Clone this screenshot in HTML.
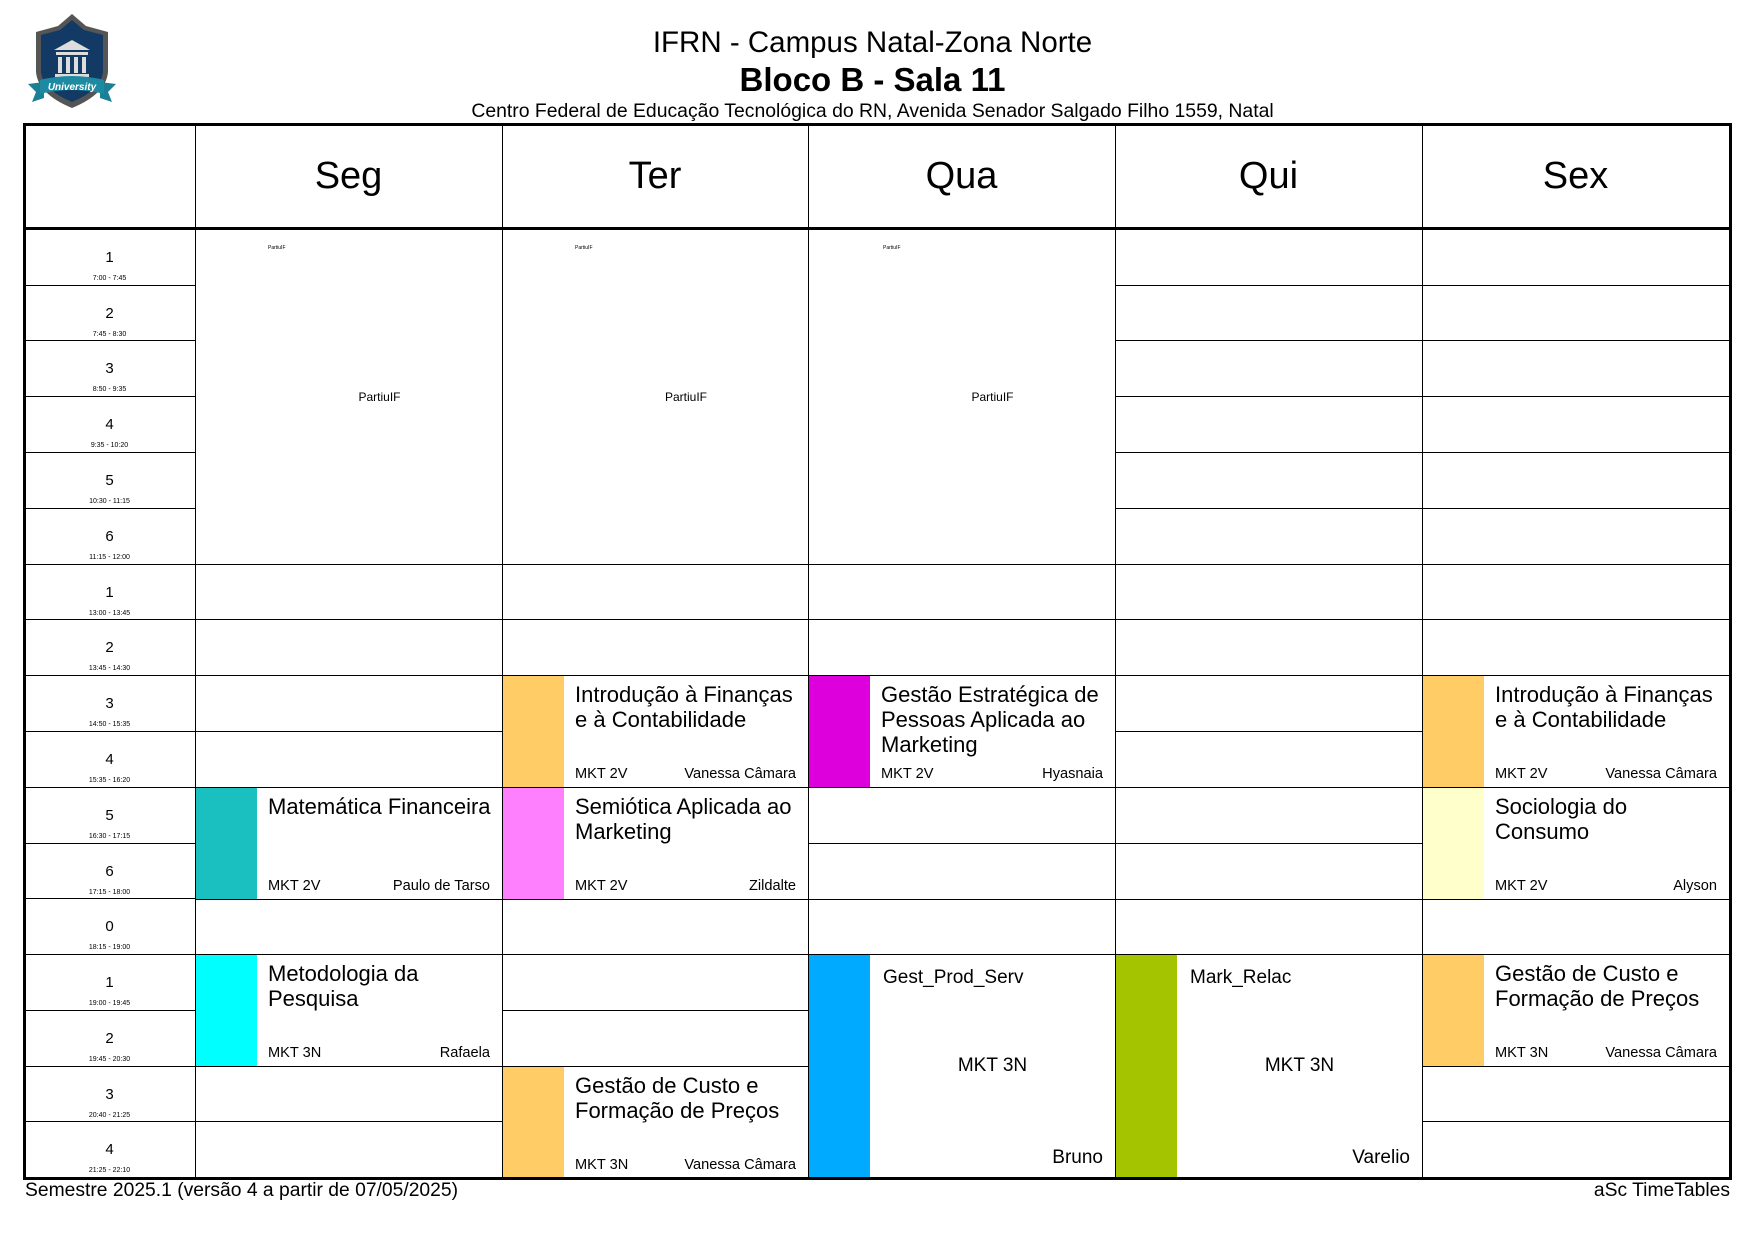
<!DOCTYPE html>
<html><head><meta charset="utf-8"><style>
*{margin:0;padding:0;box-sizing:border-box}
body{width:1755px;height:1241px;background:#fff;position:relative;overflow:hidden;font-family:"Liberation Sans",Arial,sans-serif;color:#000}
.a{position:absolute}
.c{position:absolute;border:1px solid #000;background:#fff}
.t{position:absolute;text-align:center;left:61px;right:0}
.bar{position:absolute;left:0;top:0;bottom:0;width:61px}
.ti{position:absolute;left:72px;right:10px;top:6px;font-size:22px;line-height:25px}
.g{position:absolute;left:72px;bottom:3px;font-size:14.6px;line-height:20px}
.tc{position:absolute;right:12px;bottom:3px;font-size:14.6px;line-height:20px}
.day{position:absolute;top:124px;height:105px;line-height:105px;text-align:center;font-size:38px}
.num{position:absolute;left:24px;width:171px;text-align:center}
</style></head><body>
<svg class="a" style="left:26px;top:12px" width="92" height="100" viewBox="0 0 92 100">
<path d="M46 2 L60 14 L82 20 L82 60 Q80 82 46 96 Q12 82 10 60 L10 20 L32 14 Z" fill="#555"/>
<path d="M46 8 L58 18 L77 23 L77 60 Q75 78 46 90 Q17 78 15 60 L15 23 L34 18 Z" fill="#123a64"/>
<path d="M28 38 L46 28 L64 38 Z" fill="#ddd"/>
<rect x="30" y="40" width="32" height="3" fill="#ddd"/>
<rect x="32" y="45" width="4" height="16" fill="#ddd"/><rect x="40" y="45" width="4" height="16" fill="#ddd"/><rect x="48" y="45" width="4" height="16" fill="#ddd"/><rect x="56" y="45" width="4" height="16" fill="#ddd"/>
<rect x="29" y="62" width="34" height="3" fill="#ddd"/>
<path d="M2 72 L18 70 L18 86 L6 90 L10 80 Z" fill="#1b7f95"/><path d="M90 72 L74 70 L74 86 L86 90 L82 80 Z" fill="#1b7f95"/>
<path d="M14 68 Q46 60 78 68 L78 82 Q46 74 14 82 Z" fill="#1e8aa2"/>
<text x="46" y="78" font-size="10" font-weight="bold" font-style="italic" fill="#fff" text-anchor="middle" font-family="Liberation Sans">University</text>
</svg>
<div class="a" style="left:0;width:1745px;top:26px;text-align:center;font-size:29.5px">IFRN - Campus Natal-Zona Norte</div>
<div class="a" style="left:0;width:1745px;top:61px;text-align:center;font-size:33px;font-weight:bold">Bloco B - Sala 11</div>
<div class="a" style="left:0;width:1745px;top:100px;text-align:center;font-size:19.4px">Centro Federal de Educação Tecnológica do RN, Avenida Senador Salgado Filho 1559, Natal</div>

<div class="c" style="left:24px;top:124px;width:172px;height:106px"></div>
<div class="c" style="left:195px;top:124px;width:308px;height:106px"></div>
<div class="c" style="left:502px;top:124px;width:308px;height:106px"></div>
<div class="c" style="left:808px;top:124px;width:308px;height:106px"></div>
<div class="c" style="left:1115px;top:124px;width:308px;height:106px"></div>
<div class="c" style="left:1422px;top:124px;width:308px;height:106px"></div>
<div class="day" style="left:195px;width:307px">Seg</div>
<div class="day" style="left:502px;width:306px">Ter</div>
<div class="day" style="left:808px;width:307px">Qua</div>
<div class="day" style="left:1115px;width:307px">Qui</div>
<div class="day" style="left:1422px;width:307px">Sex</div>

<div class="c" style="left:24px;top:229px;width:172px;height:57px"></div>
<div class="c" style="left:24px;top:285px;width:172px;height:57px"></div>
<div class="c" style="left:24px;top:340px;width:172px;height:57px"></div>
<div class="c" style="left:24px;top:396px;width:172px;height:57px"></div>
<div class="c" style="left:24px;top:452px;width:172px;height:57px"></div>
<div class="c" style="left:24px;top:508px;width:172px;height:57px"></div>
<div class="c" style="left:24px;top:564px;width:172px;height:57px"></div>
<div class="c" style="left:24px;top:619px;width:172px;height:57px"></div>
<div class="c" style="left:24px;top:675px;width:172px;height:57px"></div>
<div class="c" style="left:24px;top:731px;width:172px;height:57px"></div>
<div class="c" style="left:24px;top:787px;width:172px;height:57px"></div>
<div class="c" style="left:24px;top:843px;width:172px;height:57px"></div>
<div class="c" style="left:24px;top:898px;width:172px;height:57px"></div>
<div class="c" style="left:24px;top:954px;width:172px;height:57px"></div>
<div class="c" style="left:24px;top:1010px;width:172px;height:57px"></div>
<div class="c" style="left:24px;top:1066px;width:172px;height:57px"></div>
<div class="c" style="left:24px;top:1121px;width:172px;height:57px"></div>

<div class="num" style="top:249px;font-size:15px">1</div><div class="num" style="top:275px;font-size:7px">7:00 - 7:45</div>
<div class="num" style="top:305px;font-size:15px">2</div><div class="num" style="top:331px;font-size:7px">7:45 - 8:30</div>
<div class="num" style="top:360px;font-size:15px">3</div><div class="num" style="top:386px;font-size:7px">8:50 - 9:35</div>
<div class="num" style="top:416px;font-size:15px">4</div><div class="num" style="top:442px;font-size:7px">9:35 - 10:20</div>
<div class="num" style="top:472px;font-size:15px">5</div><div class="num" style="top:498px;font-size:7px">10:30 - 11:15</div>
<div class="num" style="top:528px;font-size:15px">6</div><div class="num" style="top:554px;font-size:7px">11:15 - 12:00</div>
<div class="num" style="top:584px;font-size:15px">1</div><div class="num" style="top:610px;font-size:7px">13:00 - 13:45</div>
<div class="num" style="top:639px;font-size:15px">2</div><div class="num" style="top:665px;font-size:7px">13:45 - 14:30</div>
<div class="num" style="top:695px;font-size:15px">3</div><div class="num" style="top:721px;font-size:7px">14:50 - 15:35</div>
<div class="num" style="top:751px;font-size:15px">4</div><div class="num" style="top:777px;font-size:7px">15:35 - 16:20</div>
<div class="num" style="top:807px;font-size:15px">5</div><div class="num" style="top:833px;font-size:7px">16:30 - 17:15</div>
<div class="num" style="top:863px;font-size:15px">6</div><div class="num" style="top:889px;font-size:7px">17:15 - 18:00</div>
<div class="num" style="top:918px;font-size:15px">0</div><div class="num" style="top:944px;font-size:7px">18:15 - 19:00</div>
<div class="num" style="top:974px;font-size:15px">1</div><div class="num" style="top:1000px;font-size:7px">19:00 - 19:45</div>
<div class="num" style="top:1030px;font-size:15px">2</div><div class="num" style="top:1056px;font-size:7px">19:45 - 20:30</div>
<div class="num" style="top:1086px;font-size:15px">3</div><div class="num" style="top:1112px;font-size:7px">20:40 - 21:25</div>
<div class="num" style="top:1141px;font-size:15px">4</div><div class="num" style="top:1167px;font-size:7px">21:25 - 22:10</div>

<div class="c" style="left:195px;top:229px;width:308px;height:336px"><div class="a" style="left:72px;top:15px;font-size:5px">PartiuIF</div><div class="t" style="top:160px;font-size:12px">PartiuIF</div></div>
<div class="c" style="left:502px;top:229px;width:307px;height:336px"><div class="a" style="left:72px;top:15px;font-size:5px">PartiuIF</div><div class="t" style="top:160px;font-size:12px">PartiuIF</div></div>
<div class="c" style="left:808px;top:229px;width:308px;height:336px"><div class="a" style="left:74px;top:15px;font-size:5px">PartiuIF</div><div class="t" style="top:160px;font-size:12px">PartiuIF</div></div>

<div class="c" style="left:1115px;top:229px;width:308px;height:57px"></div><div class="c" style="left:1422px;top:229px;width:308px;height:57px"></div>
<div class="c" style="left:1115px;top:285px;width:308px;height:57px"></div><div class="c" style="left:1422px;top:285px;width:308px;height:57px"></div>
<div class="c" style="left:1115px;top:340px;width:308px;height:57px"></div><div class="c" style="left:1422px;top:340px;width:308px;height:57px"></div>
<div class="c" style="left:1115px;top:396px;width:308px;height:57px"></div><div class="c" style="left:1422px;top:396px;width:308px;height:57px"></div>
<div class="c" style="left:1115px;top:452px;width:308px;height:57px"></div><div class="c" style="left:1422px;top:452px;width:308px;height:57px"></div>
<div class="c" style="left:1115px;top:508px;width:308px;height:57px"></div><div class="c" style="left:1422px;top:508px;width:308px;height:57px"></div>

<div class="c" style="left:195px;top:564px;width:1535px;height:57px"></div>
<div class="c" style="left:195px;top:619px;width:1535px;height:57px"></div>
<div class="c" style="left:195px;top:898px;width:1535px;height:57px"></div>
<div class="a" style="left:502px;top:564px;width:1px;height:112px;background:#000"></div>
<div class="a" style="left:808px;top:564px;width:1px;height:112px;background:#000"></div>
<div class="a" style="left:1115px;top:564px;width:1px;height:112px;background:#000"></div>
<div class="a" style="left:1422px;top:564px;width:1px;height:112px;background:#000"></div>
<div class="a" style="left:502px;top:898px;width:1px;height:57px;background:#000"></div>
<div class="a" style="left:808px;top:898px;width:1px;height:57px;background:#000"></div>
<div class="a" style="left:1115px;top:898px;width:1px;height:57px;background:#000"></div>
<div class="a" style="left:1422px;top:898px;width:1px;height:57px;background:#000"></div>

<div class="c" style="left:195px;top:675px;width:308px;height:57px"></div>
<div class="c" style="left:195px;top:731px;width:308px;height:57px"></div>
<div class="c" style="left:1115px;top:675px;width:308px;height:57px"></div>
<div class="c" style="left:1115px;top:731px;width:308px;height:57px"></div>
<div class="c" style="left:808px;top:787px;width:308px;height:57px"></div>
<div class="c" style="left:808px;top:843px;width:308px;height:57px"></div>
<div class="c" style="left:1115px;top:787px;width:308px;height:57px"></div>
<div class="c" style="left:1115px;top:843px;width:308px;height:57px"></div>
<div class="c" style="left:502px;top:954px;width:307px;height:57px"></div>
<div class="c" style="left:502px;top:1010px;width:307px;height:57px"></div>
<div class="c" style="left:195px;top:1066px;width:308px;height:57px"></div>
<div class="c" style="left:195px;top:1121px;width:308px;height:57px"></div>
<div class="c" style="left:1422px;top:1066px;width:308px;height:57px"></div>
<div class="c" style="left:1422px;top:1121px;width:308px;height:57px"></div>

<div class="c" style="left:502px;top:675px;width:307px;height:113px"><div class="bar" style="background:#FFCC66"></div><div class="ti">Introdução à Finanças e à Contabilidade</div><div class="g">MKT 2V</div><div class="tc">Vanessa Câmara</div></div>
<div class="c" style="left:808px;top:675px;width:308px;height:113px"><div class="bar" style="background:#DD00DD"></div><div class="ti">Gestão Estratégica de Pessoas Aplicada ao Marketing</div><div class="g">MKT 2V</div><div class="tc">Hyasnaia</div></div>
<div class="c" style="left:1422px;top:675px;width:308px;height:113px"><div class="bar" style="background:#FFCC66"></div><div class="ti">Introdução à Finanças e à Contabilidade</div><div class="g">MKT 2V</div><div class="tc">Vanessa Câmara</div></div>
<div class="c" style="left:195px;top:787px;width:308px;height:113px"><div class="bar" style="background:#1ABFBF"></div><div class="ti" style="right:4px">Matemática Financeira</div><div class="g">MKT 2V</div><div class="tc">Paulo de Tarso</div></div>
<div class="c" style="left:502px;top:787px;width:307px;height:113px"><div class="bar" style="background:#FF80FF"></div><div class="ti">Semiótica Aplicada ao Marketing</div><div class="g">MKT 2V</div><div class="tc">Zildalte</div></div>
<div class="c" style="left:1422px;top:787px;width:308px;height:113px"><div class="bar" style="background:#FFFFCC"></div><div class="ti" style="right:20px">Sociologia do Consumo</div><div class="g">MKT 2V</div><div class="tc">Alyson</div></div>
<div class="c" style="left:195px;top:954px;width:308px;height:113px"><div class="bar" style="background:#00FFFF"></div><div class="ti">Metodologia da Pesquisa</div><div class="g">MKT 3N</div><div class="tc">Rafaela</div></div>
<div class="c" style="left:1422px;top:954px;width:308px;height:113px"><div class="bar" style="background:#FFCC66"></div><div class="ti">Gestão de Custo e Formação de Preços</div><div class="g">MKT 3N</div><div class="tc">Vanessa Câmara</div></div>
<div class="c" style="left:502px;top:1066px;width:307px;height:113px"><div class="bar" style="background:#FFCC66"></div><div class="ti">Gestão de Custo e Formação de Preços</div><div class="g">MKT 3N</div><div class="tc">Vanessa Câmara</div></div>
<div class="c" style="left:808px;top:954px;width:308px;height:224px"><div class="bar" style="background:#00AAFF"></div><div class="a" style="left:74px;top:12px;font-size:19px">Gest_Prod_Serv</div><div class="a" style="left:61px;right:0;top:100px;text-align:center;font-size:19px">MKT 3N</div><div class="a" style="right:12px;bottom:8px;font-size:19px">Bruno</div></div>
<div class="c" style="left:1115px;top:954px;width:308px;height:224px"><div class="bar" style="background:#A4C400"></div><div class="a" style="left:74px;top:12px;font-size:19px">Mark_Relac</div><div class="a" style="left:61px;right:0;top:100px;text-align:center;font-size:19px">MKT 3N</div><div class="a" style="right:12px;bottom:8px;font-size:19px">Varelio</div></div>

<div class="a" style="left:23px;top:123px;width:1709px;height:1057px;border:3px solid #000"></div>
<div class="a" style="left:23px;top:227px;width:1709px;height:3px;background:#000"></div>

<div class="a" style="left:25px;top:1180px;font-size:19.3px">Semestre 2025.1 (versão 4 a partir de 07/05/2025)</div>
<div class="a" style="right:25px;top:1180px;font-size:19.3px">aSc TimeTables</div>
</body></html>
